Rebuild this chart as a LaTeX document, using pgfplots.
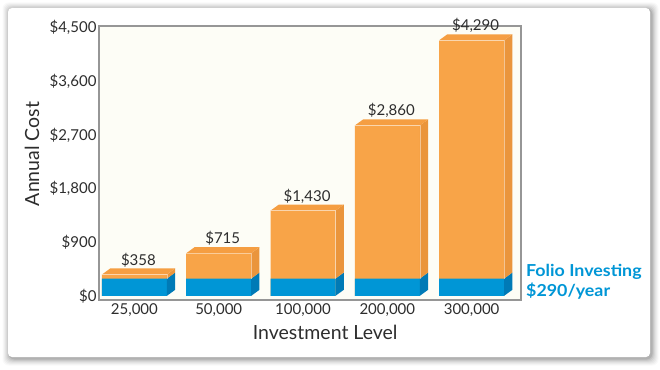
\documentclass[border=0pt]{standalone}
\usepackage{fontspec}
\setmainfont{Lato}
\newfontfamily\foliofont[FakeStretch=1.08]{Lato}
\usepackage{pgfplots}
\pgfplotsset{compat=1.18}

\definecolor{orfront}{RGB}{248,164,72}
\definecolor{ortop}{RGB}{245,158,66}
\definecolor{orside}{RGB}{234,149,60}
\definecolor{blfront}{RGB}{0,150,214}
\definecolor{blside}{RGB}{0,122,182}
\definecolor{bgcream}{RGB}{253,253,246}
\definecolor{framegray}{RGB}{150,150,150}
\definecolor{txt}{RGB}{45,45,45}

\newcommand\hw{0.3855}
\newcommand\dx{0.098}
\newcommand\dy{101}
\newcommand\barfaces[2]{%
  \pgfmathsetmacro\xa{#1-\hw}%
  \pgfmathsetmacro\xb{#1+\hw}%
  \pgfmathsetmacro\xc{#1+\hw+\dx}%
  \pgfmathsetmacro\xd{#1-\hw+\dx}%
  \pgfmathsetmacro\yb{290+\dy}%
  \pgfmathsetmacro\yt{#2+\dy}%
  \addplot[fill=blside, draw=none] coordinates {(\xb,0) (\xc,\dy) (\xc,\yb) (\xb,290)};
  \addplot[fill=orside, draw=none] coordinates {(\xb,290) (\xc,\yb) (\xc,\yt) (\xb,#2)};
  \addplot[fill=ortop, draw=none] coordinates {(\xa,#2) (\xb,#2) (\xc,\yt) (\xd,\yt)};
  \addplot[draw=white, draw opacity=0.45, line width=0.5pt] coordinates {(\xa,#2) (\xb,#2) (\xb,290)};
}

\begin{document}
\begin{tikzpicture}
\path[use as bounding box] (0pt,0pt) rectangle (660pt,369pt);
\foreach \i/\o in {7/0.025,6/0.03,5/0.035,4/0.045,3/0.055,2/0.07,1/0.09} {
  \fill[black, opacity=\o, rounded corners=6pt] ({(9.5-\i)*1pt},{(10.5-\i)*1pt}) rectangle ({(651.5+\i)*1pt},{(359.5+\i)*1pt});
}
\fill[white, rounded corners=4pt] (8pt,12pt) rectangle (650pt,361pt);
\begin{axis}[
  at={(99pt,69pt)}, anchor=south west,
  scale only axis, width=422pt, height=274pt,
  xmin=-0.42, xmax=4.586, ymin=-70, ymax=4530,
  axis background/.style={fill=bgcream},
  axis line style={draw=framegray, line width=1.3pt},
  major tick length=0pt,
  xtick={0,1,2,3,4},
  xticklabels={{25,000},{50,000},{100,000},{200,000},{300,000}},
  ytick={0,900,1800,2700,3600,4500},
  yticklabel={\$\pgfmathprintnumber{\tick}},
  /pgf/number format/assume math mode=true,
  /pgf/number format/1000 sep={,},
  ticklabel style={font=\fontsize{15}{17}\selectfont, text=txt},
  yticklabel style={xshift=1pt},
  xlabel={Investment Level},
  ylabel={Annual Cost},
  label style={font=\fontsize{19.5}{22}\selectfont, text=txt},
  xlabel style={at={(axis description cs:0.536,-0.120)}, anchor=center},
  ylabel style={at={(axis description cs:-0.159,0.533)}, anchor=center},
  clip=false,
]
\addplot[ybar, bar width=0.771, bar shift=0pt, fill=orfront, draw=none,
  nodes near coords={\$\pgfmathprintnumber{\pgfplotspointmeta}},
  every node near coord/.append style={font=\fontsize{15}{17}\selectfont, text=txt, anchor=south, xshift=4pt, yshift=4pt}]
  coordinates {(0,358) (1,715) (2,1430) (3,2860) (4,4290)};
\addplot[ybar, bar width=0.771, bar shift=0pt, fill=blfront, draw=none]
  coordinates {(0,290) (1,290) (2,290) (3,290) (4,290)};
\barfaces{0}{358}
\barfaces{1}{715}
\barfaces{2}{1430}
\barfaces{3}{2860}
\barfaces{4}{4290}
\end{axis}
\node[anchor=west, align=left, text=blfront, font=\foliofont\bfseries\fontsize{16.5}{20}\selectfont, inner sep=0pt] at (526pt,87pt) {Folio Investing\\\$290/year};
\end{tikzpicture}
\end{document}
